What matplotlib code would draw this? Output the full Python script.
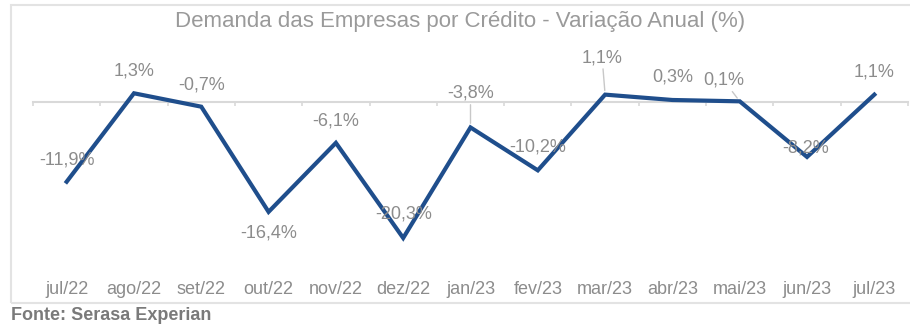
import matplotlib.pyplot as plt
from matplotlib.patches import Rectangle
import numpy as np

# Dados
meses = ['jul/22', 'ago/22', 'set/22', 'out/22', 'nov/22', 'dez/22', 'jan/23',
         'fev/23', 'mar/23', 'abr/23', 'mai/23', 'jun/23', 'jul/23']
variacao = [-11.9, 1.3, -0.7, -16.4, -6.1, -20.3, -3.8, -10.2, 1.1, 0.3, 0.1, -8.2, 1.1]

# deslocamento dos rótulos (pixels) e se têm linha guia
desloc = [(0, 22), (0, 22), (0, 22), (0, -21), (0, 22), (0, 24), (0, 34),
          (0, 23), (-3, 37), (0, 23), (-16, 21), (-1, 9), (0, 23)]
guia = [False] * 13
guia[6] = guia[8] = guia[10] = True

plt.rcParams['font.family'] = ['Liberation Sans', 'DejaVu Sans']

W, H = 910, 331
fig = plt.figure(figsize=(W / 100, H / 100), dpi=100)

# área do gráfico em pixels
x0, x1, ytop, ybot = 33, 908, 20, 280
ax = fig.add_axes([x0 / W, 1 - ybot / H, (x1 - x0) / W, (ybot - ytop) / H])

azul = '#1f4e8c'
cinza = '#8c8c8c'
linha_cinza = '#d9d9d9'

x = np.arange(len(meses))
ax.plot(x, variacao, color=azul, lw=3, solid_joinstyle='miter', zorder=3)

ax.set_xlim(-0.5, len(meses) - 0.5)
ax.set_ylim(-26.57, 12.24)

for i, v in enumerate(variacao):
    dx, dy = desloc[i]
    props = None
    if guia[i]:
        props = dict(arrowstyle='-', color='#c8c8c8', lw=1, shrinkA=0, shrinkB=3)
    ax.annotate(f'{v:.1f}%'.replace('.', ','), xy=(i, v), xytext=(dx, dy),
                textcoords='offset pixels', ha='center', va='center',
                fontsize=13, color=cinza, arrowprops=props, zorder=4)

for s in ax.spines.values():
    s.set_visible(False)
ax.set_yticks([])
ax.set_xticks(x)
ax.set_xticklabels(meses, fontsize=13, color=cinza)
ax.tick_params(axis='x', length=0, pad=1)

# eixo no zero com marcas entre categorias
eixo0 = ax.secondary_xaxis(0, transform=ax.transData)
eixo0.set_xticks(np.arange(-0.5, len(meses)), [''] * (len(meses) + 1))
eixo0.tick_params(axis='x', direction='out', length=3, width=1.2, color=linha_cinza)
eixo0.spines['bottom'].set_color(linha_cinza)
eixo0.spines['bottom'].set_linewidth(1.5)
eixo0.set_zorder(1)

fig.text(460 / W, 1 - 22 / H, 'Demanda das Empresas por Crédito - Variação Anual (%)',
         ha='center', va='center', fontsize=16, color='#9a9a9a')

fig.text(11 / W, 1 - 316 / H, 'Fonte: Serasa Experian', ha='left', va='center',
         fontsize=13, fontweight='bold', color='#7a7a7a')

# moldura
fig.patches.append(Rectangle((11 / W, 1 - 303 / H), (915 - 11) / W, (303 - 5) / H,
                             transform=fig.transFigure, fill=False,
                             edgecolor='#e3e3e3', lw=1.5))

fig.savefig('out.png', dpi=100)
plt.close()
